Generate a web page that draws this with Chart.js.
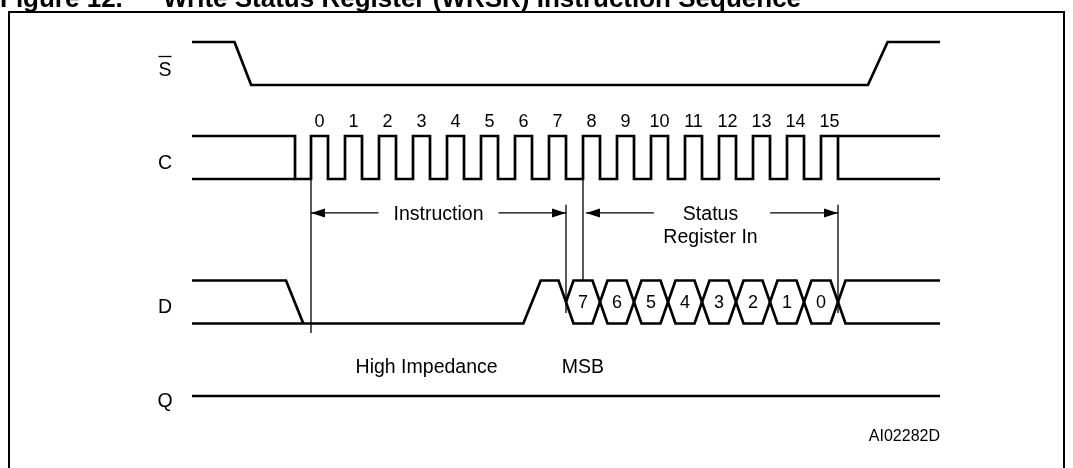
<!DOCTYPE html>
<html>
<head>
<meta charset="utf-8">
<title>Write Status Register (WRSR) Instruction Sequence</title>
<script src="https://cdn.jsdelivr.net/npm/chart.js@4/dist/chart.umd.min.js"></script>
<style>
  body { margin: 0; background: #fff; }
</style>
</head>
<body>
<canvas id="timing" width="1073" height="468"></canvas>
<script>
// ----- values -----
// time is in clock periods, 0 = rising edge of clock 0
const clockLabels = ['0', '1', '2', '3', '4', '5', '6', '7', '8', '9', '10', '11', '12', '13', '14', '15'];
const clockRise = [0, 1, 2, 3, 4, 5, 6, 7, 8, 9, 10, 11, 12, 13, 14, 15];
const clockFall = [0.5, 1.5, 2.5, 3.5, 4.5, 5.5, 6.5, 7.5, 8.5, 9.5, 10.5, 11.5, 12.5, 13.5, 14.5, 15.5];
const dataBits = ['7', '6', '5', '4', '3', '2', '1', '0'];
const traceSpan = [-3.5, 18.5];      // where every trace starts and ends
const sFall = [-2.25, -1.76];        // S going low (start, end)
const sRise = [16.38, 16.96];        // S going high again
const cIdleDrop = -0.47;             // C drawn high before the first clock drops here
const dFall = [-0.735, -0.226];      // D leaving its idle high level
const dRise = [6.245, 6.756];        // D rising just before bit 7
const hexHalf = 0.22;                // half width of a data crossing

// ----- layout (pixels) -----
const W = 1073, H = 468;
const T0_PX = 311, PERIOD_PX = 34, UNIT_PX = 43;
const lane = {
  S: (H - 85) / UNIT_PX,
  C: (H - 179) / UNIT_PX,
  D: (H - 323.5) / UNIT_PX,
  Q: (H - 396) / UNIT_PX
};
const arrowY = lane.C - 0.79;
const FONT = '"Liberation Sans", Arial, Helvetica, sans-serif';
const WORD_SIZE = 19.5, DIGIT_SIZE = 18;

function pt(x, y) { return { x: x, y: y }; }

// S (chip select)
const sData = [
  pt(traceSpan[0], lane.S + 1), pt(sFall[0], lane.S + 1), pt(sFall[1], lane.S),
  pt(sRise[0], lane.S), pt(sRise[1], lane.S + 1), pt(traceSpan[1], lane.S + 1)
];

// C (clock), drawn with both idle levels before and after
const cMain = [pt(traceSpan[0], lane.C + 1), pt(cIdleDrop, lane.C + 1), pt(cIdleDrop, lane.C)];
clockRise.forEach((r, i) => {
  cMain.push(pt(r, lane.C), pt(r, lane.C + 1), pt(clockFall[i], lane.C + 1), pt(clockFall[i], lane.C));
});
cMain.push(pt(traceSpan[1], lane.C));
const cIdleLow = [pt(traceSpan[0], lane.C), pt(cIdleDrop, lane.C)];
const cTailHigh = [pt(clockFall[15], lane.C + 1), pt(traceSpan[1], lane.C + 1)];

// D (data in)
const vertices = clockFall.slice(7);
const dIdle = [pt(traceSpan[0], lane.D + 1), pt(dFall[0], lane.D + 1), pt(dFall[1], lane.D)];
const dZig1 = [pt(traceSpan[0], lane.D), pt(dRise[0], lane.D), pt(dRise[1], lane.D + 1)];
let lvl = 1;
vertices.forEach(v => {
  dZig1.push(pt(v - hexHalf, lane.D + lvl));
  lvl = 1 - lvl;
  dZig1.push(pt(v + hexHalf, lane.D + lvl));
});
dZig1.push(pt(traceSpan[1], lane.D + lvl));
const dZig2 = [pt(vertices[0], lane.D + 0.5), pt(vertices[0] + hexHalf, lane.D + 1)];
lvl = 1;
vertices.slice(1).forEach(v => {
  dZig2.push(pt(v - hexHalf, lane.D + lvl));
  lvl = 1 - lvl;
  dZig2.push(pt(v + hexHalf, lane.D + lvl));
});
dZig2.push(pt(traceSpan[1], lane.D + lvl));

// Q (high impedance)
const qData = [pt(traceSpan[0], lane.Q), pt(traceSpan[1], lane.Q)];

// thin marker lines
const markerTop = lane.C - 0.6, markerBottom = lane.D + 0.245;
const markers = [
  [pt(clockRise[0], lane.C), pt(clockRise[0], lane.D - 0.22)],
  [pt(clockFall[7], markerTop), pt(clockFall[7], markerBottom)],
  [pt(clockRise[8], lane.C), pt(clockRise[8], lane.D + 1)],
  [pt(clockFall[15], markerTop), pt(clockFall[15], markerBottom)]
];

function trace(data, width) {
  return { data: data, showLine: true, borderColor: '#000', borderWidth: width || 2.7, pointRadius: 0, fill: false };
}

const datasets = [
  trace(sData), trace(cMain), trace(cIdleLow), trace(cTailHigh),
  trace(dIdle), trace(dZig1), trace(dZig2), trace(qData)
].concat(markers.map(m => trace(m, 1.3)));

// ----- arrows, labels, frame and title -----
const figurePlugin = {
  id: 'figureText',
  afterDatasetsDraw(chart) {
    const ctx = chart.ctx;
    const xs = chart.scales.x, ys = chart.scales.y;
    const px = v => xs.getPixelForValue(v);
    const py = v => ys.getPixelForValue(v);
    ctx.save();
    ctx.fillStyle = '#000';
    ctx.strokeStyle = '#000';

    function text(str, x, y, align, size) {
      ctx.font = (size || WORD_SIZE) + 'px ' + FONT;
      ctx.textAlign = align || 'center';
      ctx.textBaseline = 'middle';
      ctx.fillText(str, x, y);
    }

    function head(x, y, dir) {
      ctx.beginPath();
      ctx.moveTo(x, y);
      ctx.lineTo(x - dir * 14, y - 4.5);
      ctx.lineTo(x - dir * 14, y + 4.5);
      ctx.closePath();
      ctx.fill();
    }

    function arrow(x1, x2, y, gapHalf) {
      const mid = (x1 + x2) / 2;
      ctx.lineWidth = 1.3;
      ctx.beginPath();
      ctx.moveTo(x1, y); ctx.lineTo(mid - gapHalf, y);
      ctx.moveTo(mid + gapHalf, y); ctx.lineTo(x2, y);
      ctx.stroke();
      head(x1, y, -1);
      head(x2, y, 1);
    }

    const ay = py(arrowY);
    ctx.font = WORD_SIZE + 'px ' + FONT;
    arrow(px(clockRise[0]), px(clockFall[7]), ay, ctx.measureText('Instruction').width / 2 + 15);
    arrow(px(clockRise[8]) + 3, px(clockFall[15]), ay, ctx.measureText('Register In').width / 2 + 11);
    text('Instruction', px((clockRise[0] + clockFall[7]) / 2), ay + 2);
    const srX = px((clockRise[8] + clockFall[15]) / 2);
    text('Status', srX, ay + 2);
    text('Register In', srX, ay + 25);

    // clock numbers
    clockLabels.forEach((lab, i) => {
      text(lab, px((clockRise[i] + clockFall[i]) / 2), py(lane.C + 1) - 14, 'center', DIGIT_SIZE);
    });
    // data bits inside the crossings
    dataBits.forEach((b, i) => {
      text(b, px((vertices[i] + vertices[i + 1]) / 2), py(lane.D + 0.5) + 1, 'center', DIGIT_SIZE);
    });

    // signal names
    const nameX = 165;
    text('S', nameX, py(lane.S + 0.5) + 7);
    ctx.lineWidth = 1.3;
    ctx.beginPath();
    ctx.moveTo(nameX - 6.5, py(lane.S + 0.5) - 7);
    ctx.lineTo(nameX + 6.5, py(lane.S + 0.5) - 7);
    ctx.stroke();
    text('C', nameX, py(lane.C + 0.5) + 6);
    text('D', nameX, py(lane.D + 0.5) + 6);
    text('Q', nameX, py(lane.Q) + 6);

    text('High Impedance', px(3.4), py(lane.Q) - 28);
    text('MSB', px(clockRise[8]), py(lane.Q) - 28);
    text('AI02282D', px(traceSpan[1]), py(lane.Q) + 41, 'right', 16);

    // frame
    ctx.lineWidth = 2;
    ctx.strokeRect(9, 12, 1055, 500);

    // title (cut off by the top edge)
    ctx.font = 'bold 26px ' + FONT;
    ctx.textAlign = 'left';
    ctx.textBaseline = 'alphabetic';
    ctx.fillText('Figure 12.', 0, 7);
    ctx.fillText('Write Status Register (WRSR) Instruction Sequence', 163, 7);
    ctx.restore();
  }
};

new Chart(document.getElementById('timing'), {
  type: 'scatter',
  data: { datasets: datasets },
  options: {
    responsive: false,
    animation: false,
    layout: { padding: 0 },
    plugins: { legend: { display: false }, tooltip: { enabled: false } },
    elements: { line: { tension: 0, borderJoinStyle: 'miter', borderCapStyle: 'butt' }, point: { radius: 0 } },
    scales: {
      x: { type: 'linear', display: false, min: -T0_PX / PERIOD_PX, max: (W - T0_PX) / PERIOD_PX },
      y: { type: 'linear', display: false, min: 0, max: H / UNIT_PX }
    }
  },
  plugins: [figurePlugin]
});
</script>
</body>
</html>
